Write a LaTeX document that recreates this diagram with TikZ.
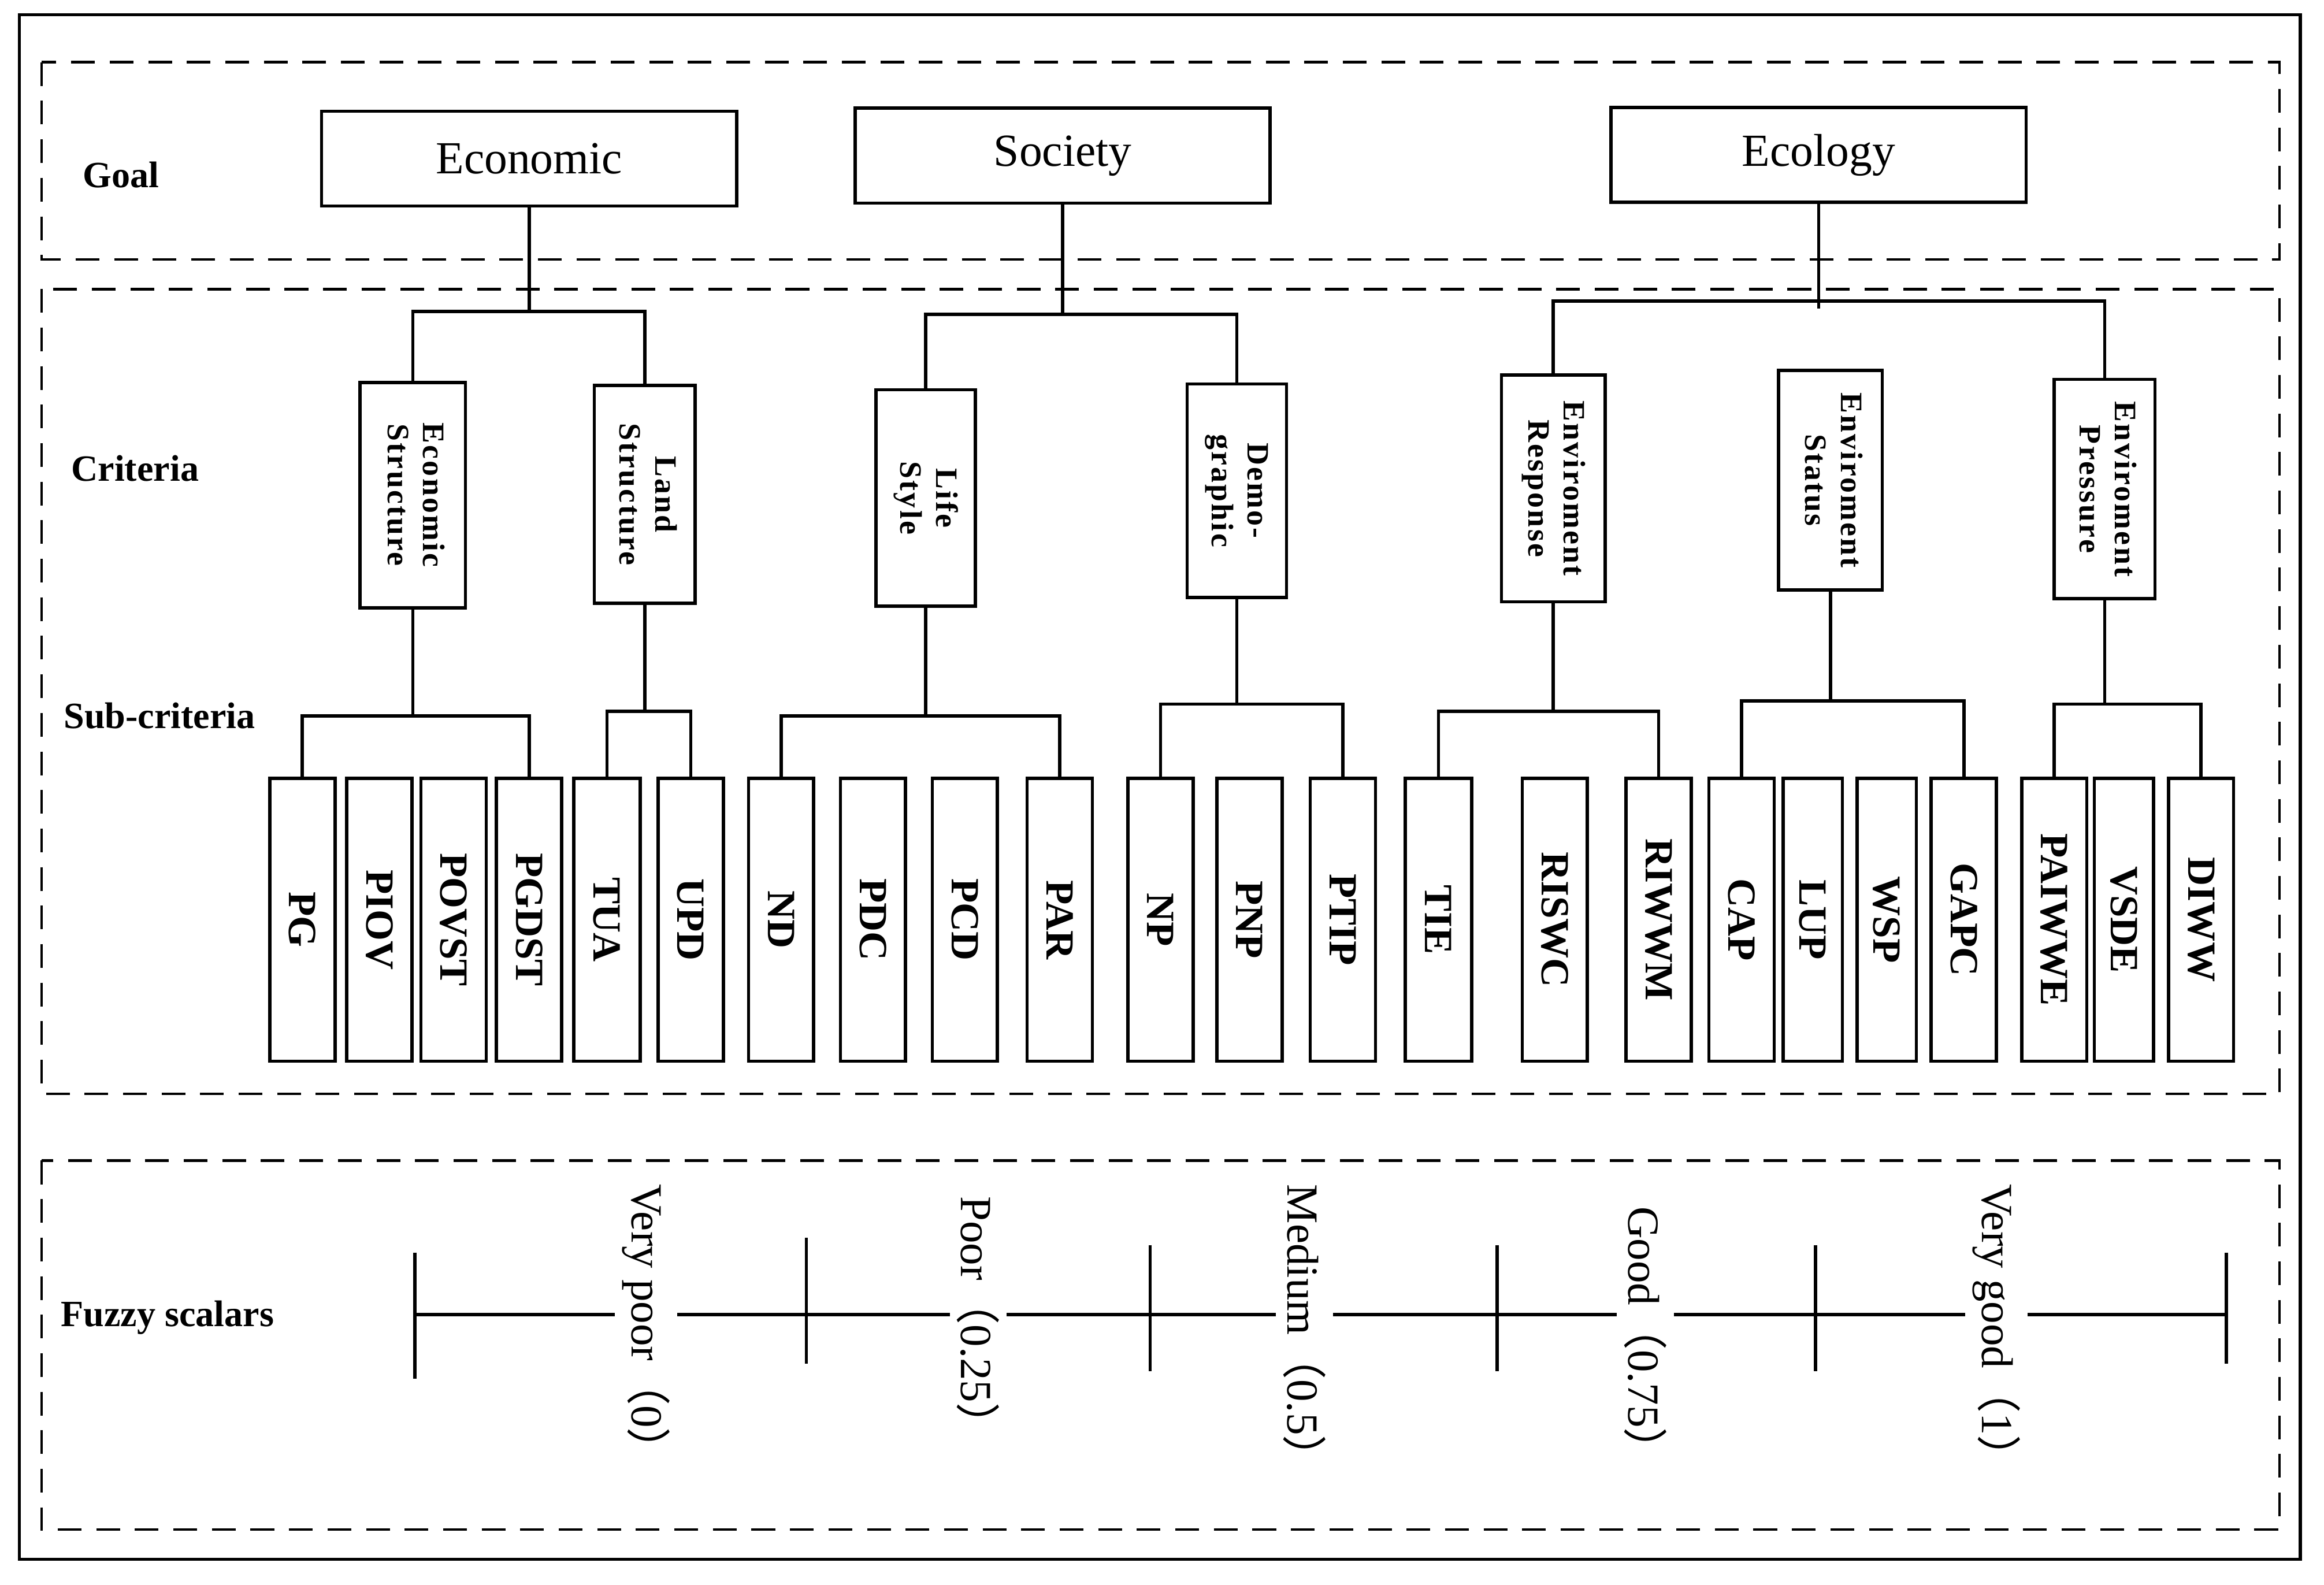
\documentclass[tikz,border=0pt]{standalone}
\usepackage{fontspec}
\setmainfont{Liberation Serif}
\newfontfamily\cjk{Noto Sans CJK SC}
\begin{document}
\begin{tikzpicture}[x=1pt,y=-1pt,line width=2.2pt]
\tikzstyle{zone}=[dash pattern=on 16pt off 10pt,line width=1.8pt]
\tikzstyle{lbl}=[anchor=west,font=\fontsize{25}{28}\selectfont\bfseries,inner sep=0]
\tikzstyle{goal}=[draw,minimum width=280,minimum height=64,font=\fontsize{31}{33}\selectfont]
\tikzstyle{crit}=[draw,inner sep=0,font=\fontsize{21}{24}\selectfont\bfseries\addfontfeatures{LetterSpace=6}]
\tikzstyle{sub}=[draw,inner sep=0,minimum height=191,font=\fontsize{27}{29}\selectfont\bfseries]
\tikzstyle{fz}=[fill=white,rotate=-90,anchor=west,inner sep=5,font=\fontsize{30}{32}\selectfont]
\useasboundingbox (0,0) rectangle (1568,1069);
\draw (13,10) rectangle (1552,1052);
\draw[zone] (28,42) rectangle (1538,175);
\draw[zone] (28,195) rectangle (1538,738);
\draw[zone] (28,783) rectangle (1538,1032);
\node[lbl] at (55,118) (lGoal) {Goal};
\node[lbl] at (47,316) (lCrit) {Criteria};
\node[lbl] at (42,483) (lSub) {Sub-criteria};
\node[lbl] at (40,889) (lFuzzy) {Fuzzy scalars};
% goal
\node[goal] at (357,107) (gEco) {Economic};
\node[goal] at (717,105) (gSoc) {Society};
\node[goal] at (1227,104.5) (gEcl) {Ecology};
% criteria
\node[crit,minimum width=71,minimum height=152] at (278.5,334) (cES) {\rotatebox{-90}{\begin{tabular}{@{}c@{}}Economic\\Structure\end{tabular}}};
\node[crit,minimum width=68,minimum height=147] at (435,333.5) (cLS) {\rotatebox{-90}{\begin{tabular}{@{}c@{}}Land\\Structure\end{tabular}}};
\node[crit,minimum width=67,minimum height=146] at (624.5,336) (cLife) {\rotatebox{-90}{\begin{tabular}{@{}c@{}}Life\\Style\end{tabular}}};
\node[crit,minimum width=67,minimum height=144] at (834.5,331) (cDemo) {\rotatebox{-90}{\begin{tabular}{@{}c@{}}Demo-\\graphic\end{tabular}}};
\node[crit,minimum width=70,minimum height=153] at (1048,329.5) (cER) {\rotatebox{-90}{\begin{tabular}{@{}c@{}}Enviroment\\Response\end{tabular}}};
\node[crit,minimum width=70,minimum height=148] at (1235,324) (cESt) {\rotatebox{-90}{\begin{tabular}{@{}c@{}}Enviroment\\Status\end{tabular}}};
\node[crit,minimum width=68,minimum height=148] at (1420,330) (cEP) {\rotatebox{-90}{\begin{tabular}{@{}c@{}}Enviroment\\Pressure\end{tabular}}};
% sub-criteria
\foreach \x/\w/\n in {204/44/PG,256/44/PIOV,306/44/POVST,357/44/PGDST,409.5/45/TUA,466/44/UPD,
  527/44/ND,589/44/PDC,651/44/PCD,715/44/PAR,783/44/NP,843/44/PNP,906/44/PTIP,970.5/45/TIE,
  1049/44/RISWC,1119/44/RIWWM,1175/44/CAP,1223/40/LUP,1273/40/WSP,1325/44/GAPC,1386/44/PAIWWE,
  1433/40/VSDE,1485/44/DIWW}
  \node[sub,minimum width=\w] at (\x,620.5) (s\n) {\rotatebox{-90}{\n}};
% goal to criteria
\coordinate (hEco) at (357,210);
\coordinate (hSoc) at (717,212);
\coordinate (hEcl) at (1227,208);
\coordinate (bEcl) at (1227,203);
\draw (gEco.south) -- (hEco);
\draw (cES.north) |- (hEco) -| (cLS.north);
\draw (gSoc.south) -- (hSoc);
\draw (cLife.north) |- (hSoc) -| (cDemo.north);
\draw (gEcl.south) -- (hEcl);
\draw (cER.north) |- (bEcl) -| (cEP.north);
% criteria to sub-criteria
\coordinate (jES) at (278.5,483);
\coordinate (jLS) at (435,480);
\coordinate (jLife) at (624.5,483);
\coordinate (jDemo) at (834.5,475);
\coordinate (jER) at (1048,480);
\coordinate (jESt) at (1235,473);
\coordinate (jEP) at (1420,475);
\draw (cES.south) -- (jES);
\draw (sPG.north) |- (jES) -| (sPGDST.north);
\draw (cLS.south) -- (jLS);
\draw (sTUA.north) |- (jLS) -| (sUPD.north);
\draw (cLife.south) -- (jLife);
\draw (sND.north) |- (jLife) -| (sPAR.north);
\draw (cDemo.south) -- (jDemo);
\draw (sNP.north) |- (jDemo) -| (sPTIP.north);
\draw (cER.south) -- (jER);
\draw (sTIE.north) |- (jER) -| (sRIWWM.north);
\draw (cESt.south) -- (jESt);
\draw (sCAP.north) |- (jESt) -| (sGAPC.north);
\draw (cEP.south) -- (jEP);
\draw (sPAIWWE.north) |- (jEP) -| (sDIWW.north);
% fuzzy scale
\coordinate (k0) at (280,887);
\coordinate (k5) at (1502,887);
\draw (k0) -- (k5);
\foreach \x/\a/\b in {280/845/930,544/835/920,776/840/925,1010/840/925,1225/840/925,1502/845/920}
  \draw (\x,\a) -- (\x,\b);
\node[fz] at (436,793) (fVP) {Very poor{\cjk （}0{\cjk ）}};
\node[fz] at (660,801) (fP) {Poor{\cjk （}0.25{\cjk ）}};
\node[fz] at (880,793) (fM) {Medium{\cjk （}0.5{\cjk ）}};
\node[fz] at (1110,808) (fG) {Good{\cjk （}0.75{\cjk ）}};
\node[fz] at (1347,793) (fVG) {Very good{\cjk （}1{\cjk ）}};
\end{tikzpicture}
\end{document}
